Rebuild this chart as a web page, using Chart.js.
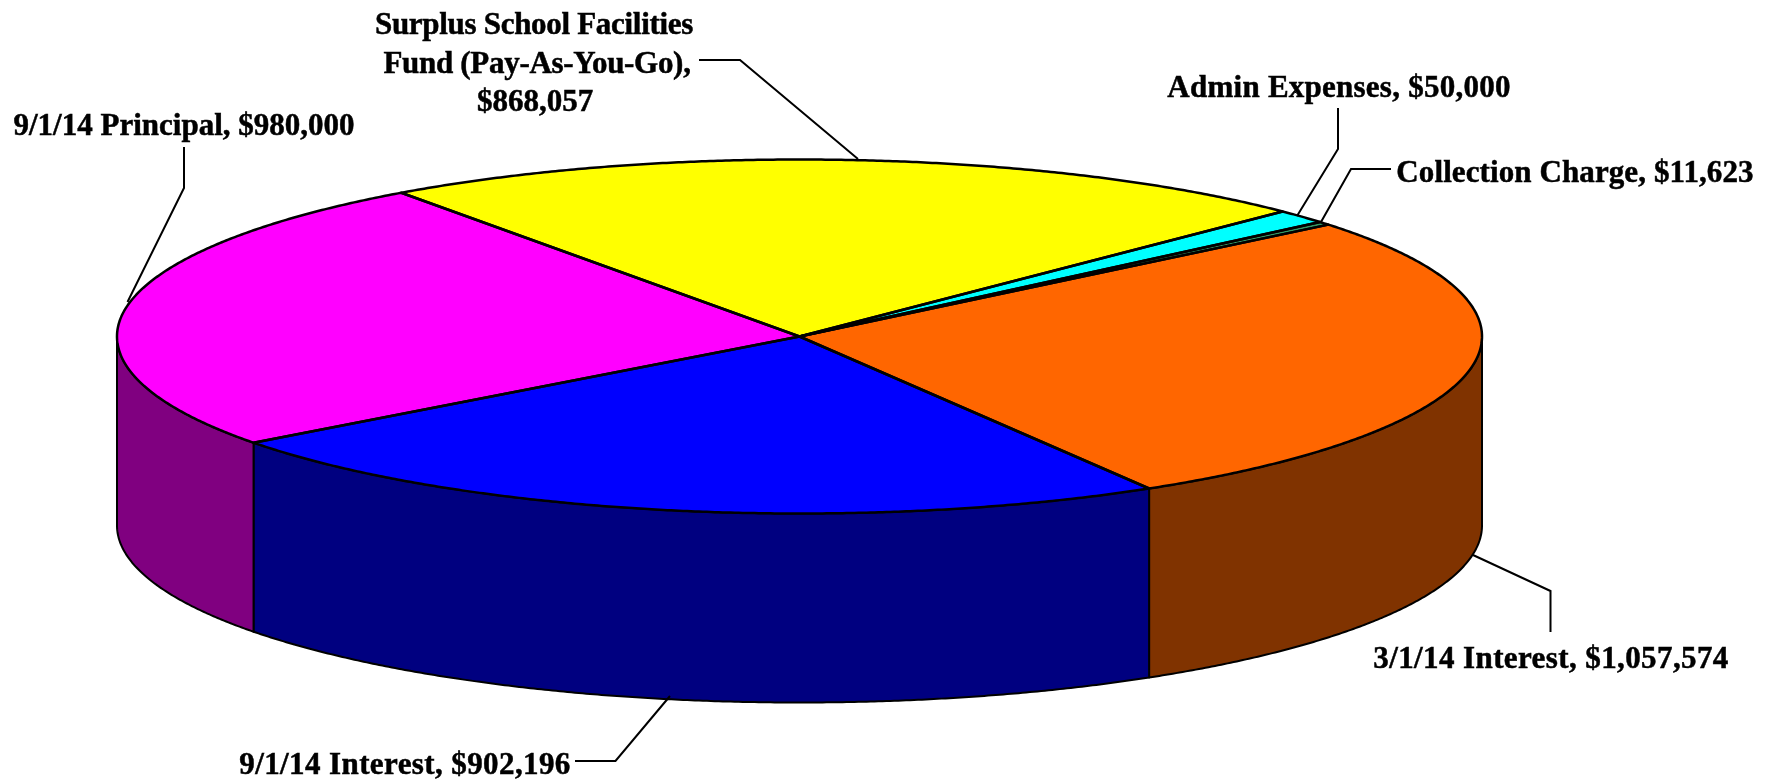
<!DOCTYPE html>
<html><head><meta charset="utf-8">
<style>html,body{margin:0;padding:0;background:#fff}#box{width:1777px;height:780px;position:relative}</style>
<script src="https://cdn.jsdelivr.net/npm/chart.js@4"></script></head>
<body><div id="box"><canvas id="c" width="1777" height="780"></canvas></div>
<script>
const categories = ['Surplus School Facilities Fund (Pay-As-You-Go)','Admin Expenses','Collection Charge','3/1/14 Interest','9/1/14 Interest','9/1/14 Principal'];
const amounts = [868057,50000,11623,1057574,902196,980000];
const topColors = ['#FFFF00','#00FFFF','#339966','#FF6600','#0000FF','#FF00FF'];
const sideColors = ['#808000','#008080','#1A4D33','#803300','#000080','#800080'];

const GEO = {cx:799.5, cy:336.5, rx:682.5, ry:177, depth:189, rotation:-35.7};
const FONT = 'bold 31px "Liberation Serif"';
// label placement: [text, centre x, centre y, letter spacing] per line, and the leader polyline for each category
const labelLines = [
  [['Surplus School Facilities',534,26,-0.3],['Fund (Pay-As-You-Go),',537,65,-0.3],['$868,057',535,103,0]],
  [['Admin Expenses, $50,000',1339,89,0.25]],
  [['Collection Charge, $11,623',1575,174,0.1]],
  [['3/1/14 Interest, $1,057,574',1551,660,0.4]],
  [['9/1/14 Interest, $902,196',405,766,0.4]],
  [['9/1/14 Principal, $980,000',184,127,0]]
];
const leaders = [
  [[699,60],[740,60],[858,159]],
  [[1338,108],[1338,149],[1297,216]],
  [[1391,169],[1351,169],[1321,222]],
  [[1550.5,632],[1550.5,591],[1473,555]],
  [[575,761],[615.5,761],[670,696]],
  [[184,147],[184,188],[127.5,302]]
];

function ellipsePath(ctx, x, y, r, a0, a1, first){
  const k = GEO.ry / r, n = Math.max(2, Math.ceil(Math.abs(a1-a0)*r/4));
  for(let i=0;i<=n;i++){
    const t = a0+(a1-a0)*i/n, px = x+r*Math.cos(t), py = y+r*k*Math.sin(t);
    if(i===0 && first) ctx.moveTo(px,py); else ctx.lineTo(px,py);
  }
}

const pie3d = {
  id:'pie3d',
  beforeDatasetsDraw(chart){
    const ctx = chart.ctx, arcs = chart.getDatasetMeta(0).data;
    // side walls (front half only) from each arc's own angles
    arcs.forEach((arc,i)=>{
      const {x,y,outerRadius:r,startAngle:s,endAngle:e} = arc.getProps(['x','y','outerRadius','startAngle','endAngle'],true);
      [-2*Math.PI,0,2*Math.PI].forEach(sh=>{
        const a0 = Math.max(s+sh,0), a1 = Math.min(e+sh,Math.PI);
        if(a1<=a0) return;
        ctx.beginPath();
        ellipsePath(ctx,x,y,r,a0,a1,true);
        ellipsePath(ctx,x,y+GEO.depth,r,a1,a0,false);
        ctx.closePath();
        ctx.fillStyle = sideColors[i]; ctx.fill();
        ctx.strokeStyle='#000'; ctx.lineWidth=2; ctx.lineJoin='round'; ctx.stroke();
      });
    });
    // squash the library's own arcs onto the tilted plane
    ctx.save();
    ctx.translate(GEO.cx,GEO.cy);
    ctx.scale(1,GEO.ry/GEO.rx);
    ctx.translate(-GEO.cx,-GEO.cy);
  },
  afterDatasetsDraw(chart){
    const ctx = chart.ctx, arcs = chart.getDatasetMeta(0).data;
    ctx.restore();
    ctx.strokeStyle='#000'; ctx.lineWidth=2.5; ctx.lineJoin='round';
    arcs.forEach(arc=>{
      const {x,y,outerRadius:r,startAngle:s,endAngle:e} = arc.getProps(['x','y','outerRadius','startAngle','endAngle'],true);
      ctx.beginPath(); ctx.moveTo(x,y);
      ellipsePath(ctx,x,y,r,s,e,false);
      ctx.closePath(); ctx.stroke();
    });
    // leaders
    ctx.lineWidth=2; ctx.lineJoin='miter';
    leaders.forEach(pts=>{
      ctx.beginPath();
      pts.forEach((p,i)=> i?ctx.lineTo(p[0],p[1]):ctx.moveTo(p[0],p[1]));
      ctx.stroke();
    });
    // labels
    ctx.font = FONT; ctx.fillStyle='#000'; ctx.textAlign='center'; ctx.textBaseline='middle';
    ctx.lineWidth=0.5;
    labelLines.forEach(lines=>lines.forEach(l=>{
      ctx.letterSpacing = l[3]+'px';
      ctx.fillText(l[0],l[1],l[2]);ctx.strokeText(l[0],l[1],l[2]);
    }));
    ctx.letterSpacing='0px';
  }
};

new Chart(document.getElementById('c'),{
  type:'pie',
  data:{labels:categories,datasets:[{data:amounts,backgroundColor:topColors,borderWidth:0,clip:false}]},
  options:{
    responsive:false,animation:false,
    rotation:GEO.rotation,radius:GEO.rx,
    layout:{padding:{left:0,top:0,right:1777-2*GEO.cx,bottom:780-2*GEO.cy}},
    plugins:{legend:{display:false},tooltip:{enabled:false},title:{display:false}}
  },
  plugins:[pie3d]
});
</script></body></html>
